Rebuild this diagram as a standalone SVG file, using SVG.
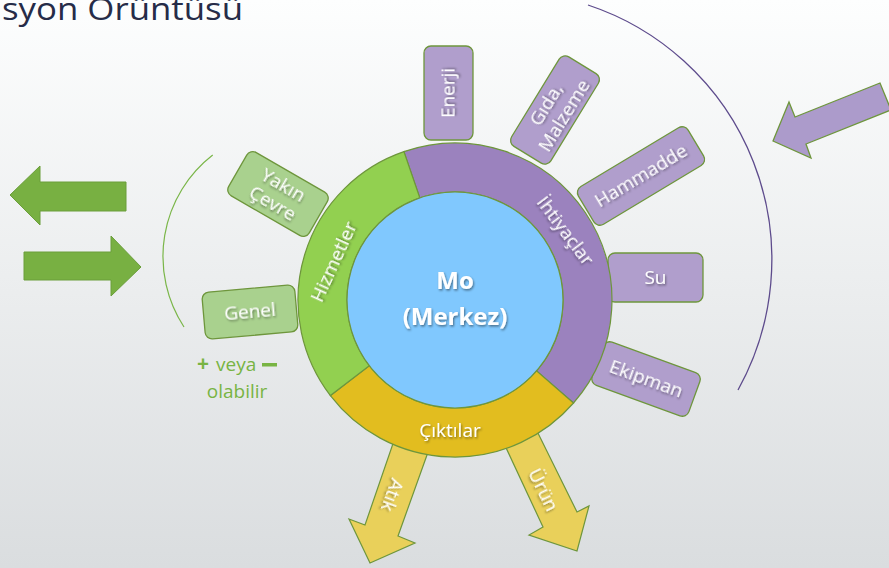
<svg xmlns="http://www.w3.org/2000/svg" width="889" height="568" viewBox="0 0 889 568">
<defs>
<linearGradient id="bg" x1="0" y1="0" x2="0" y2="1">
<stop offset="0" stop-color="#fdfefe"/>
<stop offset="1" stop-color="#dadddf"/>
</linearGradient>
<filter id="sh" x="-20%" y="-20%" width="140%" height="140%">
<feDropShadow dx="1" dy="1.5" stdDeviation="0.8" flood-color="#000" flood-opacity="0.45"/>
</filter>
<style>
.t{font-family:"Open Sans","Liberation Sans",sans-serif;fill:#fff;text-anchor:middle;filter:url(#sh)}
.bx{font-size:19px}
.pb{fill:#b09ecc;stroke:#6e963c;stroke-width:1.3}
.gb{fill:#a9d18e;stroke:#6e963c;stroke-width:1.3}
.ring{stroke:#6e963c;stroke-width:1.2}
.ya{fill:#e9d05a;stroke:#6e963c;stroke-width:1.2}
.ga{fill:#78b042;stroke:#6a9e3a;stroke-width:1}
</style>
</defs>
<rect width="889" height="568" fill="url(#bg)"/>
<text x="2" y="20" font-family="Open Sans, Liberation Sans, sans-serif" font-size="31" fill="#262c48" textLength="241" lengthAdjust="spacingAndGlyphs">syon Örüntüsü</text>

<g id="connectors">
<path d="M212.7 155 A128.5 128.5 0 0 0 184 327" fill="none" stroke="#7ab648" stroke-width="1.2"/>
<path d="M588 5 A268.2 268.2 0 0 1 738 390" fill="none" stroke="#5d4b8c" stroke-width="1.3"/>
<polygon class="ga" points="10,195 40,166 40,182 126,182 126,211 40,211 40,225"/>
<polygon class="ga" points="24,252 111,252 111,236 141,267 111,296 111,280 24,280"/>
<polygon points="773,141 789,102 795,117 880,83 891,110 806,144 811,158" fill="#ac9bcb" stroke="#6e963c" stroke-width="1.3"/>
</g>

<g id="atik">
<polygon class="ya" points="398,429 432,441 398,536 415,543 370,563 349,519 365,525"/>
<text class="t bx" transform="translate(392,495) rotate(110)" dy="6">Atık</text>
</g>
<g id="urun">
<polygon class="ya" points="501,437 532,421 577,512 589,506 577,551 529,535 543,527"/>
<text class="t bx" transform="translate(543,490) rotate(64)" dy="6">Ürün</text>
</g>

<g id="enerji">
<rect class="pb" x="424" y="46" width="49" height="94" rx="7"/>
<text class="t bx" transform="translate(448.5,93) rotate(-90)" dy="6">Enerji</text>
</g>
<g id="gida" transform="translate(555,110) rotate(-58.5)">
<rect class="pb" x="-52.5" y="-23" width="105" height="46" rx="7"/>
<text class="t bx" y="-4">Gıda,</text>
<text class="t bx" y="17">Malzeme</text>
</g>
<g id="hammadde" transform="translate(641,176) rotate(-31)">
<rect class="pb" x="-64" y="-22" width="128" height="44" rx="7"/>
<text class="t bx" dy="6">Hammadde</text>
</g>
<g id="su">
<rect class="pb" x="608" y="253" width="95" height="49" rx="7"/>
<text class="t bx" x="655.5" y="284">Su</text>
</g>
<g id="ekipman" transform="translate(646,379) rotate(20)">
<rect class="pb" x="-51.5" y="-23" width="103" height="46" rx="7"/>
<text class="t bx" dy="6">Ekipman</text>
</g>
<g id="yakin" transform="translate(278,194) rotate(30)">
<rect class="gb" x="-46.5" y="-25" width="93" height="50" rx="7"/>
<text class="t bx" y="-4">Yakın</text>
<text class="t bx" y="17">Çevre</text>
</g>
<g id="genel" transform="translate(250,312) rotate(-5)">
<rect class="gb" x="-46.5" y="-23.5" width="93" height="47" rx="7"/>
<text class="t bx" dy="6">Genel</text>
</g>

<g id="veya" font-family="Open Sans, Liberation Sans, sans-serif" font-size="19" fill="#78b443">
<text x="197" y="371" font-weight="bold" font-size="21">+</text>
<text x="216" y="371">veya</text>
<rect x="262" y="363" width="15" height="3.5"/>
<text x="237" y="398" text-anchor="middle">olabilir</text>
</g>

<g id="ring">
<path id="ihtiyaclar" class="ring" fill="#9b82be" d="M403.9 151.6 A157 157 0 0 1 573.5 403 L536.5 370.9 A108 108 0 0 0 419.8 197.9 Z"/>
<path id="ciktilar" class="ring" fill="#e2bd1f" d="M573.5 403 A157 157 0 0 1 330.4 395.6 L369.3 365.7 A108 108 0 0 0 536.5 370.9 Z"/>
<path id="hizmetler" class="ring" fill="#92d050" d="M330.4 395.6 A157 157 0 0 1 403.9 151.6 L419.8 197.9 A108 108 0 0 0 369.3 365.7 Z"/>
<text class="t" font-size="19" transform="translate(334,262) rotate(-65.5)" dy="6">Hizmetler</text>
<text class="t" font-size="19" transform="translate(565,231) rotate(53)" dy="6">İhtiyaçlar</text>
<text class="t" font-size="19" x="450" y="437">Çıktılar</text>
</g>

<g id="merkez">
<circle cx="455" cy="300" r="108" fill="#80c8fe" stroke="#6e963c" stroke-width="1.2"/>
<text class="t" font-size="24" font-weight="bold" x="455" y="289">Mo</text>
<text class="t" font-size="24" font-weight="bold" x="455" y="325">(Merkez)</text>
</g>
</svg>
